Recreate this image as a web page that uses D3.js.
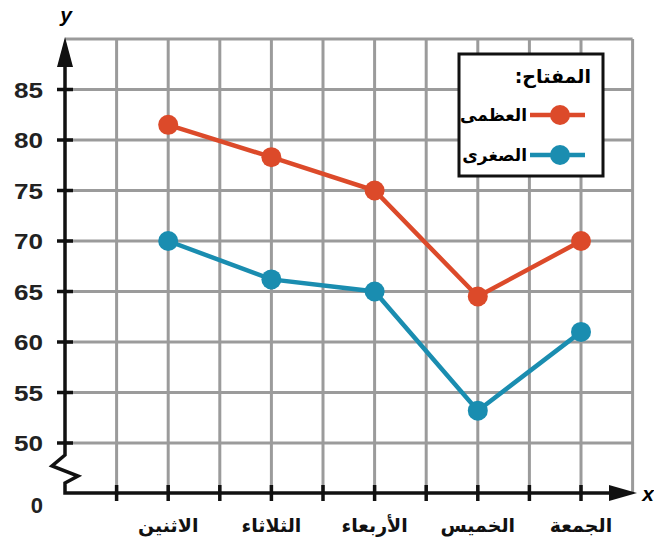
<!DOCTYPE html>
<html><head><meta charset="utf-8">
<script src="https://cdn.jsdelivr.net/npm/d3@7"></script>
<style>body{margin:0;background:#fff}svg{display:block}</style>
</head><body>
<script>
const days = ["الاثنين","الثلاثاء","الأربعاء","الخميس","الجمعة"];
const highs = [81.5, 78.3, 75, 64.5, 70];
const lows = [70, 66.2, 65, 53.2, 61];
const yTicks = [50,55,60,65,70,75,80,85];
const legendTitle = "المفتاح:";
const seriesNames = ["العظمى","الصغرى"];
const colors = ["#dc4a2a","#1a8db0"];

const W=654,H=547;
const svg=d3.select("body").append("svg").attr("width",W).attr("height",H);
const x=d3.scaleLinear().domain([0,11]).range([65,632.6]);
const y=d3.scaleLinear().domain([50,90]).range([443,39]);
const axisY=493, gridTop=y(90);
const grid="#9b9b9b";

svg.append("g").selectAll("line").data(d3.range(1,12)).join("line")
 .attr("x1",d=>x(d)).attr("x2",d=>x(d)).attr("y1",gridTop).attr("y2",axisY)
 .attr("stroke",grid).attr("stroke-width",3);
svg.append("g").selectAll("line").data(d3.range(50,91,5)).join("line")
 .attr("x1",x(0)).attr("x2",x(11)).attr("y1",d=>y(d)).attr("y2",d=>y(d))
 .attr("stroke",grid).attr("stroke-width",3);

const ax=svg.append("g").attr("stroke","#111").attr("fill","none").attr("stroke-width",3.5);
ax.append("path").attr("d",`M${x(0)},${gridTop+20}V455L52,466L78,476L${x(0)},483V${axisY}H615`);
ax.append("g").selectAll("line").data(yTicks).join("line")
 .attr("x1",57).attr("x2",73).attr("y1",d=>y(d)).attr("y2",d=>y(d));
ax.append("g").selectAll("line").data(d3.range(1,11)).join("line")
 .attr("x1",d=>x(d)).attr("x2",d=>x(d)).attr("y1",axisY-8).attr("y2",axisY+8);
svg.append("path").attr("d",`M${x(0)},37L${x(0)-8},67L${x(0)+8},67Z`).attr("fill","#111");
svg.append("path").attr("d",`M637,${axisY}L609,${axisY-8}L609,${axisY+8}Z`).attr("fill","#111");

svg.append("g").selectAll("text").data(yTicks).join("text")
 .attr("x",43).attr("y",d=>y(d)+8).attr("text-anchor","end")
 .attr("font-family","Liberation Sans, Arial, sans-serif").attr("font-weight","bold").attr("font-size",22)
 .attr("textLength",29).attr("lengthAdjust","spacingAndGlyphs")
 .attr("fill","#222").text(d=>d);
svg.append("text").attr("x",43).attr("y",axisY+20).attr("text-anchor","end")
 .attr("font-family","Liberation Sans, Arial, sans-serif").attr("font-weight","bold").attr("font-size",22).attr("fill","#222").text("0");
svg.append("text").attr("x",66).attr("y",22).attr("text-anchor","middle")
 .attr("font-family","Liberation Sans, Arial, sans-serif").attr("font-style","italic").attr("font-weight","bold").attr("font-size",21).text("y");
svg.append("text").attr("x",648).attr("y",axisY+8).attr("text-anchor","middle")
 .attr("font-family","Liberation Sans, Arial, sans-serif").attr("font-style","italic").attr("font-weight","bold").attr("font-size",21).text("x");
svg.append("g").selectAll("text").data(days).join("text")
 .attr("x",(d,i)=>x(2*i+2)).attr("y",532).attr("text-anchor","middle")
 .attr("font-family","DejaVu Sans, sans-serif").attr("font-weight","bold").attr("font-size",19).attr("fill","#111").text(d=>d);

const line=d3.line().x((d,i)=>x(2*i+2)).y(d=>y(d));
[highs,lows].forEach((s,k)=>{
  svg.append("path").datum(s).attr("d",line).attr("fill","none").attr("stroke",colors[k]).attr("stroke-width",4.5);
  svg.append("g").selectAll("circle").data(s).join("circle")
   .attr("cx",(d,i)=>x(2*i+2)).attr("cy",d=>y(d)).attr("r",10).attr("fill",colors[k]);
});

const lg=svg.append("g");
lg.append("rect").attr("x",459).attr("y",54).attr("width",144).attr("height",122)
 .attr("fill","#fff").attr("stroke","#111").attr("stroke-width",3);
lg.append("text").attr("x",591).attr("y",83).attr("text-anchor","start").attr("direction","rtl")
 .attr("font-family","DejaVu Sans, sans-serif").attr("font-weight","bold").attr("font-size",19).text(legendTitle);
seriesNames.forEach((n,k)=>{
  const yy=115+k*40;
  lg.append("line").attr("x1",530).attr("x2",585).attr("y1",yy).attr("y2",yy).attr("stroke",colors[k]).attr("stroke-width",4.5);
  lg.append("circle").attr("cx",560).attr("cy",yy).attr("r",10).attr("fill",colors[k]);
  lg.append("text").attr("x",527).attr("y",yy+6).attr("text-anchor","start").attr("direction","rtl")
   .attr("font-family","DejaVu Sans, sans-serif").attr("font-weight","bold").attr("font-size",17).text(n);
});
</script>
</body></html>
